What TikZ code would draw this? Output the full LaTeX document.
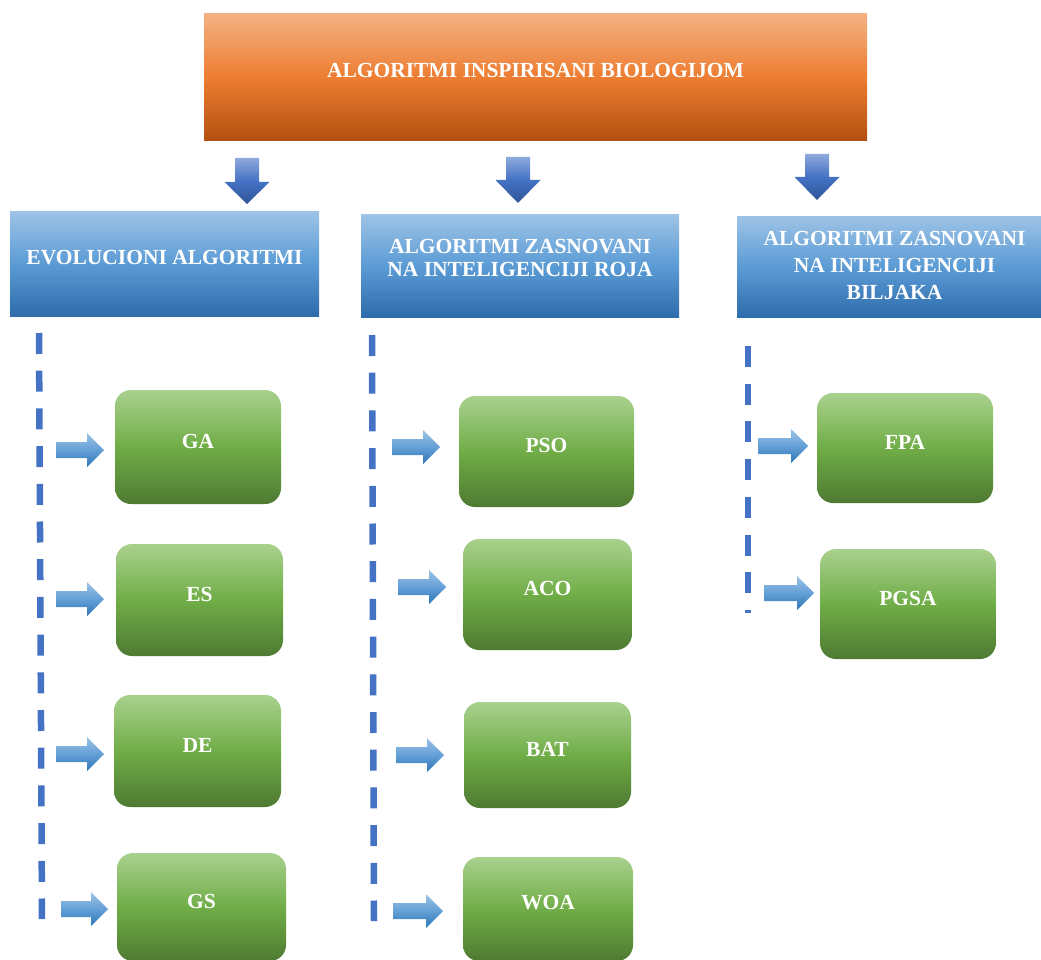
\documentclass[tikz,border=0pt]{standalone}
\usepackage{fontspec}
\setmainfont{Liberation Serif}
\usetikzlibrary{calc}
\definecolor{orT}{RGB}{244,177,131}
\definecolor{orM}{RGB}{237,125,49}
\definecolor{orB}{RGB}{178,80,16}
\definecolor{blT}{RGB}{157,195,230}
\definecolor{blM}{RGB}{91,155,213}
\definecolor{blB}{RGB}{46,108,172}
\definecolor{grT}{RGB}{169,209,142}
\definecolor{grM}{RGB}{112,173,71}
\definecolor{grB}{RGB}{78,122,50}
\definecolor{daT}{RGB}{142,169,219}
\definecolor{daM}{RGB}{68,114,196}
\definecolor{daB}{RGB}{47,85,151}
\definecolor{raT}{RGB}{157,195,230}
\definecolor{raM}{RGB}{100,160,215}
\definecolor{raB}{RGB}{46,117,182}
\definecolor{dashc}{RGB}{68,114,196}
\tikzset{
  txt/.style={text=white, font=\bfseries\fontsize{21.5}{23}\selectfont, align=center},
  topbox/.style={rectangle, inner sep=0pt, top color=orT, bottom color=orB, middle color=orM},
  bbox/.style={rectangle, inner sep=0pt, top color=blT, bottom color=blB, middle color=blM},
  gbox/.style={rectangle, rounded corners=16pt, inner sep=0pt, top color=grT, bottom color=grB, middle color=grM},
  darrow/.style={top color=daT, bottom color=daB, middle color=daM},
  rarrow/.style={top color=raT, bottom color=raB, middle color=raM},
  dline/.style={draw=dashc, line width=6.5pt, dash pattern=on 21pt off 16.7pt},
}
\newcommand\rblk[3]{%
  \shade[rarrow] (#1,#3-8) -- (#2-17,#3-8) -- (#2-17,#3-17) -- (#2,#3) -- (#2-17,#3+17) -- (#2-17,#3+8) -- (#1,#3+8) -- cycle;}
\newcommand\dblk[4]{% x top base tip
  \shade[darrow] (#1-12,#2) -- (#1+12,#2) -- (#1+12,#3) -- (#1+22.5,#3) -- (#1,#4) -- (#1-22.5,#3) -- (#1-12,#3) -- cycle;}
\begin{document}
\begin{tikzpicture}[x=1pt,y=-1pt]
\useasboundingbox (0,0) rectangle (1041,960);

% top box
\node[topbox, minimum width=663pt, minimum height=127pt,
  label={[txt, yshift=7pt]center:ALGORITMI INSPIRISANI BIOLOGIJOM}] (top) at (535.5,77.5) {};

% category boxes
\node[bbox, minimum width=309pt, minimum height=104pt,
  label={[txt, yshift=6pt]center:EVOLUCIONI ALGORITMI}] (evo) at (164.5,264) {};
\node[bbox, minimum width=318pt, minimum height=102pt,
  label={[txt, yshift=8pt]center:ALGORITMI ZASNOVANI\\NA INTELIGENCIJI ROJA}] (roj) at (520,266) {};
\node[bbox, minimum width=305pt, minimum height=101pt,
  label={[txt, font=\bfseries\fontsize{21.5}{27}\selectfont, yshift=2pt, xshift=5pt]center:ALGORITMI ZASNOVANI\\NA INTELIGENCIJI\\BILJAKA}] (bil) at (889.5,267) {};

% down arrows
\dblk{247}{158}{182}{204}
\dblk{518}{157}{180}{203}
\dblk{817}{154}{177}{200}

% dashed lines
\coordinate (d1s) at (39,333); \coordinate (d1e) at (42,919);
\coordinate (d2s) at (372,335); \coordinate (d2e) at (374,921);
\coordinate (d3s) at (748,346); \coordinate (d3e) at (748,613);
\draw[dline] (d1s) -- (d1e);
\draw[dline] (d2s) -- (d2e);
\draw[dline] (d3s) -- (d3e);

% green boxes
\node[gbox, minimum width=166pt, minimum height=114pt, label={[txt, yshift=6pt]center:GA}] (ga) at (198,447) {};
\node[gbox, minimum width=167pt, minimum height=112pt, label={[txt, yshift=6pt]center:ES}] (es) at (199.5,600) {};
\node[gbox, minimum width=167pt, minimum height=112pt, label={[txt, yshift=6pt]center:DE}] (de) at (197.5,751) {};
\node[gbox, minimum width=169pt, minimum height=108pt, label={[txt, yshift=6pt]center:GS}] (gs) at (201.5,907) {};

\node[gbox, minimum width=175pt, minimum height=111pt, label={[txt, yshift=6pt]center:PSO}] (pso) at (546.5,451.5) {};
\node[gbox, minimum width=169pt, minimum height=111pt, label={[txt, yshift=6pt]center:ACO}] (aco) at (547.5,594.5) {};
\node[gbox, minimum width=167pt, minimum height=106pt, label={[txt, yshift=6pt]center:BAT}] (bat) at (547.5,755) {};
\node[gbox, minimum width=170pt, minimum height=104pt, label={[txt, yshift=6pt]center:WOA}] (woa) at (548,909) {};

\node[gbox, minimum width=176pt, minimum height=110pt, label={[txt, yshift=6pt]center:FPA}] (fpa) at (905,448) {};
\node[gbox, minimum width=176pt, minimum height=110pt, label={[txt, yshift=6pt]center:PGSA}] (pgsa) at (908,604) {};

% right arrows
\rblk{56}{104}{450}
\rblk{56}{104}{599}
\rblk{56}{104}{754}
\rblk{61}{108}{909}
\rblk{392}{440}{447}
\rblk{398}{446}{587}
\rblk{396}{444}{755}
\rblk{393}{443}{911}
\rblk{758}{808}{446}
\rblk{764}{814}{593}
\end{tikzpicture}
\end{document}
